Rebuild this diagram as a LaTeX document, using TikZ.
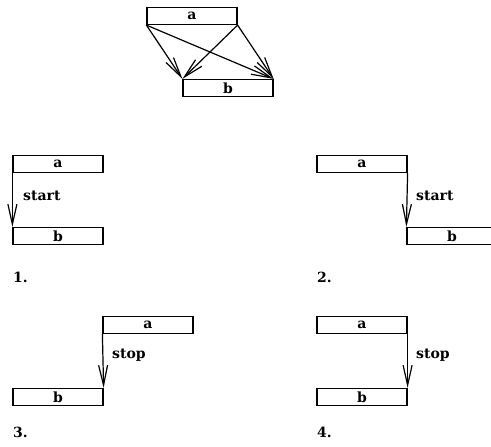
\documentclass[tikz,border=0pt]{standalone}
\usepackage{fontspec}
\setmainfont{DejaVu Serif}
\usetikzlibrary{arrows.meta}
\begin{document}
\begin{tikzpicture}[x=1pt,y=-1pt,
  box/.style={draw,line width=1.2pt,minimum width=90pt,minimum height=17pt,inner sep=0pt,font=\fontsize{14}{16}\selectfont\bfseries},
  lbl/.style={inner sep=0pt,anchor=base west,font=\fontsize{14}{16}\selectfont\bfseries},
  conn/.style={line width=1.2pt,-{Straight Barb[length=20pt,width=9pt]}}]
\useasboundingbox (0,0) rectangle (491,447);
\clip (0,0) rectangle (491,447);
% top
\node[box] (ta) at (192,16) {a};
\node[box] (tb) at (228,88) {b};
\draw[conn] (ta.south west) -- (tb.north west);
\draw[conn] (ta.south west) -- (tb.north east);
\draw[conn] (ta.south east) -- (tb.north west);
\draw[conn] (ta.south east) -- (tb.north east);
% panel 1
\node[box] (a1) at (58,164) {a};
\node[box] (b1) at (58,236) {b};
\draw[conn] (a1.south west) -- (b1.north west);
\node[lbl] (s1) at (23,200) {start};
\node[lbl] (n1) at (13,282) {1.};
% panel 2
\node[box] (a2) at (362,164) {a};
\node[box] (b2) at (452,236) {b};
\draw[conn] (a2.south east) -- (b2.north west);
\node[lbl] (s2) at (416,200) {start};
\node[lbl] (n2) at (317,282) {2.};
% panel 3
\node[box] (a3) at (148,325) {a};
\node[box] (b3) at (58,397) {b};
\draw[conn] (a3.south west) -- (b3.north east);
\node[lbl] (s3) at (112,358) {stop};
\node[lbl] (n3) at (13,437) {3.};
% panel 4
\node[box] (a4) at (362,325) {a};
\node[box] (b4) at (362,397) {b};
\draw[conn] (a4.south east) -- (b4.north east);
\node[lbl] (s4) at (416,358) {stop};
\node[lbl] (n4) at (317,437) {4.};
\end{tikzpicture}
\end{document}
